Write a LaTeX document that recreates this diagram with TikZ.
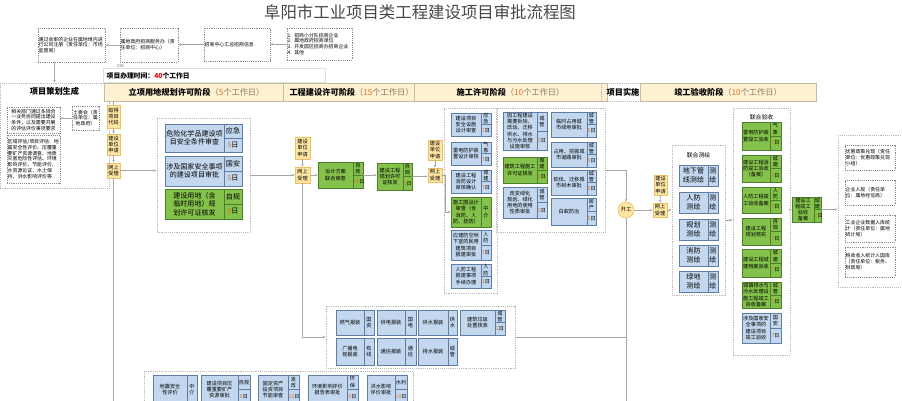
\documentclass[tikz,border=0pt]{standalone}
\usepackage{fontspec}
\setmainfont{Noto Sans CJK SC}
\XeTeXlinebreaklocale "zh"
\XeTeXlinebreakskip=0pt
\usetikzlibrary{arrows.meta,positioning}

\definecolor{bluefill}{HTML}{C3D8EF}
\definecolor{blueline}{HTML}{5E7EA6}
\definecolor{greenfill}{HTML}{84C24B}
\definecolor{greenline}{HTML}{4C7F2C}
\definecolor{yelfill}{HTML}{FDE6A3}
\definecolor{yelline}{HTML}{EFC060}
\definecolor{hdfill}{HTML}{FDF1D2}
\definecolor{hdline}{HTML}{C4BBA6}
\definecolor{dotline}{HTML}{B8B8B8}
\definecolor{flowline}{HTML}{A6A6A6}
\definecolor{dayc}{HTML}{E8711A}
\definecolor{hdgray}{HTML}{8A7A60}

\tikzset{
  bluebox/.style={draw=blueline, fill=bluefill, line width=.5pt, inner sep=.3pt,
    align=center, font=\fontsize{4.4}{5.3}\selectfont},
  greenbox/.style={bluebox, draw=greenline, fill=greenfill},
  bigtxt/.style={font=\fontsize{6}{7.2}\selectfont},
  ybox/.style={draw=yelline, fill=yelfill, line width=.5pt, inner sep=.3pt,
    align=center, font=\fontsize{4.4}{5.3}\selectfont},
  dotbox/.style={draw=dotline, dash pattern=on .8pt off .8pt, line width=.5pt},
  notebox/.style={dotbox, draw=black!45, inner sep=.4pt, align=left,
    font=\fontsize{4.2}{5}\selectfont},
  hdcell/.style={draw=hdline, fill=hdfill, line width=.5pt, align=center,
    font=\fontsize{7}{8}\selectfont},
  flow/.style={draw=flowline, line width=.6pt},
  arr/.style={flow, -{Stealth[length=2.4pt,width=2pt]}},
}

% box by corners: name, style, x1, y1, x2, y2, text
\newcommand{\rbox}[7]{%
  \pgfmathsetmacro\bxw{(#5-#3)*0.3}%
  \pgfmathsetmacro\bxh{(#6-#4)*0.3}%
  \pgfmathsetmacro\bxt{(#5-#3)*0.3*2.845-1.2}%
  \node[minimum width=\bxw mm, minimum height=\bxh mm, text width=\bxt pt, #2]
    (#1) at ({(#3+#5)/2},{(#4+#6)/2}) {#7};}
% approval box with department column: name, style, x1, y1, x2, x3, y2, text, {dept}{days}
\newcommand{\tagbox}[9]{%
  \rbox{#1}{#2}{#3}{#4}{#5}{#7}{#8}%
  \tagcells{#1}{#2}{#5}{#6}{#4}{#7}#9}
\newcommand{\tagcells}[8]{%
  \pgfmathsetmacro\tcw{(#4-#3)*0.3}%
  \pgfmathsetmacro\tct{(#4-#3)*0.3*2.845-1.2}%
  \ifx\relax#8\relax
    \pgfmathsetmacro\tch{(#6-#5)*0.3}%
    \node[minimum width=\tcw mm, minimum height=\tch mm, text width=\tct pt, #2]
      (#1-t) at ({(#3+#4)/2},{(#5+#6)/2}) {#7};
  \else
    \pgfmathsetmacro\tch{(#6-#5)*0.15}%
    \node[minimum width=\tcw mm, minimum height=\tch mm, text width=\tct pt, #2]
      (#1-t) at ({(#3+#4)/2},{(3*#5+#6)/4}) {#7};
    \node[minimum width=\tcw mm, minimum height=\tch mm, text width=\tct pt, #2]
      (#1-d) at ({(#3+#4)/2},{(#5+3*#6)/4}) {{\color{dayc}#8}日};
  \fi}
\newcommand{\hdtext}[2]{\textbf{#1}{\color{hdgray}（{\color{dayc}#2}个工作日）}}

\begin{document}
\begin{tikzpicture}[x=0.3mm,y=-0.3mm]
\useasboundingbox (0,0) rectangle (902,400);
\clip (0,0) rectangle (902,400);

% title
\node[font=\fontsize{14}{16}\selectfont, text=black!72] (title) at (420,12)
  {阜阳市工业项目类工程建设项目审批流程图};

% investment info
\rbox{topA}{notebox}{38}{28}{105}{62}{通过会审的企业在属地境内进行公司注册（责任单位：市场监管局）}
\rbox{topB}{notebox}{120}{28}{178}{62}{属地政府招商服务办（责任单位：招商中心）}
\rbox{topC}{notebox}{204}{28}{270}{61}{招商中心汇总招商信息}
\rbox{topD}{notebox}{287}{28}{352}{60}{1. 招商小分队招商企业\\2. 属地政府招商单位\\3. 开发园区招商办招商企业\\4. 其他}
\node[font=\fontsize{3}{3.5}\selectfont, text=gray] (remark) at (122,66) {注释：};
\rbox{tbox}{draw=black!12, line width=.4pt, align=left, font=\fontsize{5.8}{7}\selectfont\bfseries}{106}{69}{322}{82}{项目办理时间：{\color{red}40}个工作日}

\draw[arr] (topD) -- (topD -| topC.east);
\draw[arr] (topC) -- (topC -| topB.east);
\draw[arr] (topB) -- (topB -| topA.east);

% stage headers
\rbox{plan}{dotbox}{3}{83}{106}{188}{}
\node[font=\fontsize{7}{8}\selectfont\bfseries] (plantitle) at (54.5,91) {项目策划生成};
\rbox{h1}{hdcell}{107}{83}{286}{101}{\hdtext{立项用地规划许可阶段}{5}}
\rbox{h2}{hdcell}{286}{83}{417}{101}{\hdtext{工程建设许可阶段}{15}}
\rbox{h3}{hdcell}{417}{83}{604}{101}{\hdtext{施工许可阶段}{10}}
\rbox{h4}{dotbox, align=center, font=\fontsize{7}{8}\selectfont\bfseries}{604}{83}{642}{101}{项目实施}
\rbox{h5}{hdcell}{643}{83}{813}{101}{\hdtext{竣工验收阶段}{10}}
\draw[arr] (plan.north |- topA.south) -- (plan.north);

% project planning
\rbox{p1}{notebox, align=center}{7}{107}{60}{133}{相关部门通过多规合一业务协同提出建设条件，以及需要开展的评估评价事项要求}
\rbox{p2}{notebox, align=center}{72}{106}{99}{130}{土委会（责任单位：属地政府）}
\rbox{p3}{notebox}{7}{135}{60}{183}{区域评估/项目评估：地震安全性评价、压覆重要矿产资源调查、地质灾害危险性评估、环境影响评价、节能评价、水资源论证、水土保持、洪水影响评价等}
\draw[arr] (p2) -- (p2 -| p1.east);

% stage 1
\rbox{y1}{ybox}{107}{105}{120}{128}{取得项目代码}
\rbox{y2}{ybox}{107}{134}{120}{155}{建设单位申请}
\rbox{y3}{ybox}{107}{163}{120}{178}{网上受理}
\rbox{g1}{dotbox}{160}{118}{247}{232}{}
\tagbox{g1a}{bluebox,bigtxt}{165}{124}{224}{242}{152}{危险化学品建设项目安全条件审查}{{应急}{5}}
\tagbox{g1b}{bluebox,bigtxt}{165}{156}{224}{242}{186}{涉及国家安全事项的建设项目审批}{{国安}{5}}
\tagbox{g1c}{greenbox,bigtxt}{165}{189}{224}{242}{219}{建设用地（含临时用地）规划许可证核发}{{自规}{5}}
\coordinate (end1) at (113.5,410);
\draw[flow] (y1.north |- h1.south) -- (y1.north);
\draw[arr] (y1) -- (y2);
\draw[arr] (y2) -- (y3);
\draw[flow] (y3) -- (end1);
\draw[arr] (y3) -- (y3 -| g1.west);

% stage 2
\rbox{y4}{ybox}{295}{137}{310}{159}{建设单位申请}
\rbox{y5}{ybox}{295}{167}{310}{183}{网上受理}
\tagbox{d1}{greenbox}{318}{162}{353}{363}{188}{设计方案联合审查}{{自规}{10}}
\tagbox{d2}{greenbox}{377}{163}{403}{412}{190}{建设工程规划许可证核发}{{自规}{5}}
\draw[arr] (g1.east |- y5) -- (y5);
\draw[arr] (y4) -- (y5);
\draw[arr] (y5) -- (y5 -| d1.west);
\draw[arr] (d1 -| d1-t.east) -- (d1 -| d2.west);

% stage 3
\rbox{y6}{ybox}{428}{140}{442}{160}{建设单位申请}
\rbox{y7}{ybox}{428}{168}{442}{182}{网上受理}
\draw[arr] (d2 -| d2-t.east) -- (d2 -| y7.west);
\draw[arr] (y6) -- (y7);
\rbox{g3}{dotbox}{447}{108}{494}{293}{}
\tagbox{g3a}{bluebox}{451}{113}{481}{491}{136}{建设项目安全设施设计审查}{{应急}{7}}
\tagbox{g3b}{bluebox}{451}{142}{481}{491}{165}{雷电防护装置设计审核}{{气象}{7}}
\tagbox{g3c}{bluebox}{451}{170}{481}{491}{193}{建设工程消防设计审核确认}{{城建}{7}}
\tagbox{g3d}{greenbox}{451}{197}{481}{491}{227}{施工图设计审查（含消防、人防、技防）}{{中介}{}}
\tagbox{g3e}{bluebox}{451}{230}{481}{491}{260}{应建防空地下室的民用建筑项目报建审批}{{人防}{7}}
\tagbox{g3f}{bluebox}{451}{264}{481}{491}{288}{人防工程报建事项手续办理}{{人防}{3}}
\draw[arr] (y7.east) -- ++(3.5,0) |- (g3d.west);

\rbox{g4}{dotbox}{499}{108}{602}{232}{}
\tagbox{g4a}{bluebox}{503}{112}{537}{547}{150}{因工程建设需要拆除、改动、迁移供水、排水与污水处理设施审核}{{城管}{5}}
\tagbox{g4b}{greenbox}{503}{157}{537}{547}{183}{建筑工程施工许可证核发}{{城建}{3}}
\tagbox{g4c}{bluebox}{503}{187}{537}{547}{218}{改变绿化规划、绿化用地的使用性质审批}{{城管}{5}}
\tagbox{g4d}{bluebox}{551}{112}{587}{596}{137}{临时占用城市绿地审批}{{城管}{5}}
\tagbox{g4e}{bluebox}{551}{142}{587}{596}{167}{占用、挖掘城市道路审批}{{城管}{5}}
\tagbox{g4f}{bluebox}{551}{170}{587}{596}{195}{砍伐、迁移城市树木审批}{{城管}{5}}
\tagbox{g4g}{bluebox}{551}{198}{587}{596}{225}{白蚁防治}{{房产}{5}}

% utilities
\rbox{g5}{dotbox}{329}{306}{512}{368}{}
\tagbox{s1}{bluebox}{336}{310}{364}{374}{335}{燃气报装}{{国资}{}}
\tagbox{s2}{bluebox}{377}{310}{405}{416}{335}{供电报装}{{国电}{}}
\tagbox{s3}{bluebox}{418}{310}{448}{457}{335}{供水报装}{{供水}{}}
\tagbox{s4}{bluebox}{460}{310}{495}{505}{335}{建筑垃圾处置核准}{{城管}{1}}
\tagbox{s5}{bluebox}{336}{338}{364}{374}{365}{广播电视报装}{{有线}{}}
\tagbox{s6}{bluebox}{377}{338}{405}{416}{365}{通信报装}{{通信}{}}
\tagbox{s7}{bluebox}{418}{338}{448}{457}{365}{排水报装}{{城管}{}}
\draw[arr] (y5.south) |- (g5.west);

% other approvals
\rbox{g6}{dotbox}{147}{371}{410}{420}{}
\tagbox{b1}{bluebox}{153}{375}{187}{197}{404}{地震安全性评价}{{中介}{}}
\tagbox{b2}{bluebox}{201}{375}{238}{250}{404}{建设项目压覆重要矿产资源审批}{{自规}{5}}
\tagbox{b3}{bluebox}{258}{375}{288}{299}{404}{固定资产投资项目节能审查}{{发改}{10}}
\tagbox{b4}{bluebox}{308}{375}{347}{358}{404}{环境影响评价报告表审批}{{环保}{5}}
\tagbox{b5}{bluebox}{367}{375}{395}{407}{404}{洪水影响评价审批}{{水利}{10}}

% start of works
\node[circle, draw=yelline, fill=yelfill, line width=.5pt, minimum size=4.8mm, inner sep=0,
  font=\fontsize{4.6}{5.5}\selectfont] (kg) at (626,210) {开工};
\coordinate (end2) at (626,410);
\draw[arr] (g4.east) -| (kg.north);
\draw[flow] (kg.south) -- (end2);
\draw[flow] (g5.east) -- (g5.east -| kg.south);

% completion
\rbox{y8}{ybox}{654}{175}{667}{195}{建设单位申请}
\rbox{y9}{ybox}{653}{203}{667}{217}{网上受理}
\draw[arr] (kg) -- (kg -| y9.west);
\draw[arr] (y8) -- (y9);

\rbox{g7}{dotbox}{675}{145}{722}{295}{}
\node[font=\fontsize{5}{6}\selectfont] (g7title) at (698.5,155) {联合测绘};
\tagbox{m1}{bluebox,bigtxt}{679}{165}{708}{718}{186}{地下管线测绘}{{测绘}{}}
\tagbox{m2}{bluebox,bigtxt}{679}{192}{708}{718}{213}{人防测绘}{{测绘}{}}
\tagbox{m3}{bluebox,bigtxt}{679}{219}{708}{718}{240}{规划测绘}{{测绘}{}}
\tagbox{m4}{bluebox,bigtxt}{679}{245}{708}{718}{266}{消防测绘}{{测绘}{}}
\tagbox{m5}{bluebox,bigtxt}{679}{271}{708}{718}{292}{绿地测绘}{{测绘}{}}
\draw[arr] (y9) -- (y9 -| g7.west);

\rbox{g8}{dotbox}{736}{108}{787}{355}{}
\node[font=\fontsize{5}{6}\selectfont] (g8title) at (761.5,117) {联合验收};
\tagbox{v1}{greenbox}{742}{122}{770}{781}{150}{雷电防护装置竣工验收}{{气象}{7}}
\tagbox{v2}{greenbox}{742}{155}{770}{781}{182}{建设工程消防竣工验收（备案）}{{城建}{7}}
\tagbox{v3}{greenbox}{742}{187}{770}{781}{213}{人防工程竣工验收备案}{{人防}{7}}
\tagbox{v4}{greenbox}{742}{218}{770}{781}{245}{建设工程规划核实}{{自规}{7}}
\tagbox{v5}{greenbox}{742}{249}{770}{781}{277}{建设工程城建档案验收}{{城建}{7}}
\tagbox{v6}{greenbox}{742}{282}{770}{781}{308}{城镇排水与污水处理设施工程竣工验收备案}{{城管}{7}}
\tagbox{v7}{bluebox}{742}{313}{770}{781}{343}{涉及国家安全事项的建设项目竣工验收}{{国安}{7}}
\draw[arr] (g7) -- (g7 -| g8.west);

\tagbox{fin}{greenbox}{792}{197}{814}{821}{222}{建设工程竣工验收备案}{{城建}{3}}
\draw[arr] (fin -| g8.east) -- (fin);

% after completion
\rbox{g9}{dotbox}{841}{135}{899}{287}{}
\rbox{r1}{notebox}{845}{145}{895}{170}{优惠政策兑现（责任单位：优惠政策兑现小组）}
\rbox{r2}{notebox}{845}{180}{895}{205}{企业入规（责任单位：属地经信局）}
\rbox{r3}{notebox}{845}{215}{895}{242}{工业企业数据入库统计（责任单位：属地统计局）}
\rbox{r4}{notebox}{845}{247}{895}{277}{税收收入统计入国库（责任单位：税务、财政局）}
\draw[arr] (fin -| fin-t.east) -- (fin -| g9.west);
\end{tikzpicture}
\end{document}
